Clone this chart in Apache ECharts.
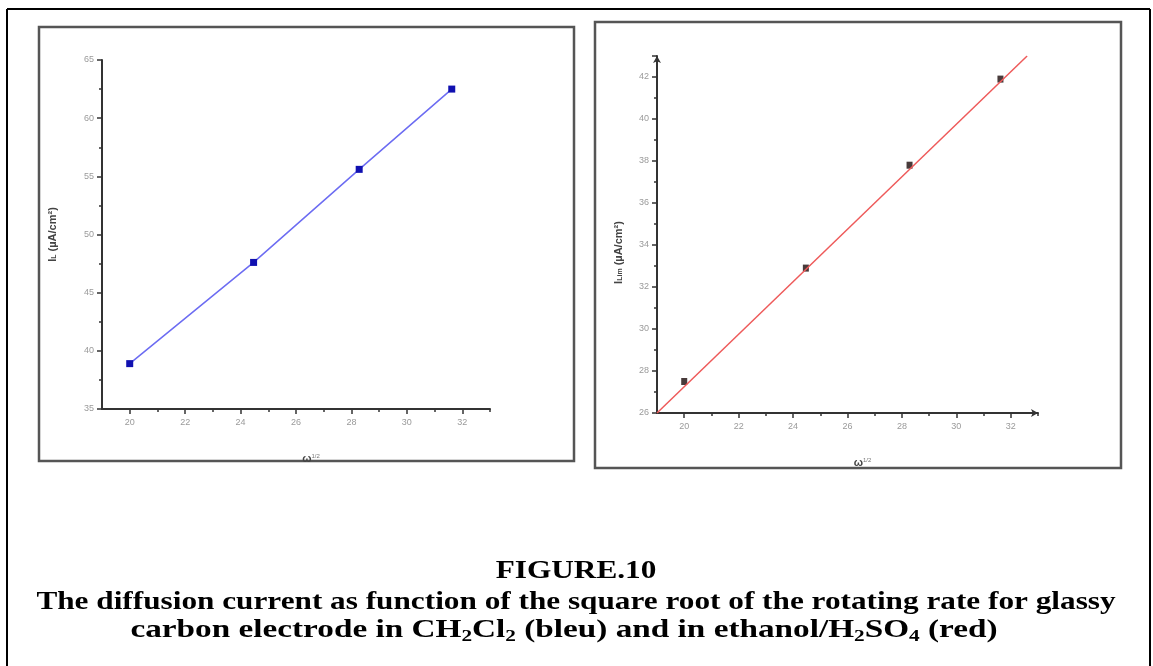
<!DOCTYPE html>
<html>
<head>
<meta charset="utf-8">
<script src="https://cdn.jsdelivr.net/npm/echarts@6/dist/echarts.min.js"></script>
<style>
  html, body { margin: 0; padding: 0; background: #fff; }
  #chart { width: 1153px; height: 666px; }
</style>
</head>
<body>
<div id="chart"></div>
<script>
var chart = echarts.init(document.getElementById('chart'));

// square root of rotating rate (x axis, both panels)
var omegaRoot = [20, 24.47, 28.28, 31.62];
// CH2Cl2 (blue panel)
var currentBlue = [38.9, 47.6, 55.6, 62.5];
// ethanol/H2SO4 (red panel)
var currentRed = [27.5, 32.9, 37.8, 41.9];
// fitted line ends, red panel
var fitX = [19, 32.6];
var fitY = [26.0, 43.0];
// tick labels
var xMajor = [20, 22, 24, 26, 28, 30, 32];
var xMinor = [21, 23, 25, 27, 29, 31, 33];

var lblStyle = { color: '#9a9a9a', fontSize: 9, fontFamily: 'Arial' };
var nameRich = {
    a: { fontSize: 11, fontWeight: 'bold', color: '#444', fontFamily: 'Arial' },
    s: { fontSize: 7, fontWeight: 'bold', color: '#444', fontFamily: 'Arial', verticalAlign: 'bottom', lineHeight: 8 },
    u: { fontSize: 6, color: '#777', fontFamily: 'Arial', verticalAlign: 'top', lineHeight: 6 }
};
var axisLineStyle = { color: '#333', width: 2 };

function xAxes(gi, ends) {
    return [{
        type: 'value', gridIndex: gi, min: 19, max: 33, position: 'bottom', offset: 0,
        axisLine: { lineStyle: axisLineStyle, symbol: ends, symbolSize: [6, 7] },
        axisTick: { show: true, length: 5, customValues: xMajor, lineStyle: { color: '#333', width: 1.5 } },
        axisLabel: Object.assign({ customValues: xMajor, margin: 9 }, lblStyle),
        splitLine: { show: false },
        name: '{a|ω}{u|1/2}', nameLocation: 'middle', nameGap: 44,
        nameTextStyle: { rich: nameRich, color: '#444', padding: [0, 0, 0, 30] }
    }, {
        type: 'value', gridIndex: gi, min: 19, max: 33, position: 'bottom', offset: 0,
        axisLine: { show: false },
        axisTick: { show: true, length: 3, customValues: xMinor, lineStyle: { color: '#333', width: 1.5 } },
        axisLabel: { show: false },
        splitLine: { show: false }
    }];
}

option = {
    backgroundColor: '#fff',
    animation: false,
    grid: [
        { left: 102, top: 60, width: 388, height: 349 },
        { left: 657, top: 56, width: 381, height: 357 }
    ],
    xAxis: xAxes(0, ['none', 'none']).concat(xAxes(1, ['none', 'arrow'])),
    yAxis: [
        {
            type: 'value', gridIndex: 0, min: 35, max: 65, interval: 5,
            axisLine: { lineStyle: axisLineStyle },
            axisTick: { length: 5, lineStyle: { color: '#333', width: 1.5 } },
            minorTick: { show: true, splitNumber: 2, length: 3, lineStyle: { color: '#333', width: 1.5 } },
            axisLabel: Object.assign({ margin: 8 }, lblStyle),
            splitLine: { show: false },
            name: '{a|I}{s|L}{a| (µA/cm²)}', nameLocation: 'middle', nameGap: 44, nameRotate: 90,
            nameTextStyle: { rich: nameRich }
        },
        {
            type: 'value', gridIndex: 1, min: 26, max: 43, interval: 2,
            axisLine: { lineStyle: axisLineStyle, symbol: ['none', 'arrow'], symbolSize: [6, 7] },
            axisTick: { length: 5, lineStyle: { color: '#333', width: 1.5 } },
            minorTick: { show: true, splitNumber: 2, length: 3, lineStyle: { color: '#333', width: 1.5 } },
            axisLabel: Object.assign({ margin: 8, showMaxLabel: false }, lblStyle),
            splitLine: { show: false },
            name: '{a|I}{s|Lim}{a| (µA/cm²)}', nameLocation: 'middle', nameGap: 33, nameRotate: 90,
            nameTextStyle: { rich: nameRich, padding: [0, 36, 0, 0] }
        }
    ],
    series: [
        {
            name: 'CH2Cl2', type: 'line', xAxisIndex: 0, yAxisIndex: 0,
            data: omegaRoot.map(function (x, i) { return [x, currentBlue[i]]; }),
            lineStyle: { color: '#6c6cf2', width: 1.5 },
            symbol: 'rect', symbolSize: [7, 7],
            itemStyle: { color: '#1010b0' }
        },
        {
            name: 'fit', type: 'line', xAxisIndex: 2, yAxisIndex: 1,
            data: fitX.map(function (x, i) { return [x, fitY[i]]; }),
            lineStyle: { color: '#ee5a5a', width: 1.5 },
            symbol: 'none'
        },
        {
            name: 'ethanol/H2SO4', type: 'scatter', xAxisIndex: 2, yAxisIndex: 1,
            data: omegaRoot.map(function (x, i) { return [x, currentRed[i]]; }),
            symbol: 'rect', symbolSize: [6, 7],
            itemStyle: { color: '#1a0a0a' }
        }
    ],
    graphic: [
        // outer frame
        { type: 'line', shape: { x1: 7, y1: 9, x2: 1150, y2: 9 }, style: { stroke: '#000', lineWidth: 2 } },
        { type: 'line', shape: { x1: 7, y1: 9, x2: 7, y2: 666 }, style: { stroke: '#000', lineWidth: 2 } },
        { type: 'line', shape: { x1: 1150, y1: 9, x2: 1150, y2: 666 }, style: { stroke: '#000', lineWidth: 2 } },
        // panel boxes
        { type: 'rect', shape: { x: 39, y: 27, width: 535, height: 434 }, style: { fill: 'none', stroke: '#555', lineWidth: 2.5 } },
        { type: 'rect', shape: { x: 595, y: 22, width: 526, height: 446 }, style: { fill: 'none', stroke: '#555', lineWidth: 2.5 } },
        // caption (the source text is stretched horizontally)
        {
            type: 'text', x: 576, y: 572, scaleX: 1.25,
            style: { text: 'FIGURE.10', fill: '#000', font: 'bold 25px "Liberation Serif"', textAlign: 'center', textVerticalAlign: 'middle' }
        },
        {
            type: 'text', x: 576, y: 603, scaleX: 1.25,
            style: { text: 'The diffusion current as function of the square root of the rotating rate for glassy', fill: '#000', font: 'bold 25px "Liberation Serif"', textAlign: 'center', textVerticalAlign: 'middle' }
        },
        {
            type: 'text', x: 564, y: 631, scaleX: 1.33,
            style: {
                text: '{m|carbon electrode in CH}{s|2}{m|Cl}{s|2}{m| (bleu) and in ethanol/H}{s|2}{m|SO}{s|4}{m| (red)}',
                textAlign: 'center', textVerticalAlign: 'middle',
                rich: {
                    m: { fontSize: 25, fontWeight: 'bold', fontFamily: 'Liberation Serif', color: '#000', lineHeight: 28 },
                    s: { fontSize: 16, fontWeight: 'bold', fontFamily: 'Liberation Serif', color: '#000', lineHeight: 16, verticalAlign: 'bottom' }
                }
            }
        }
    ]
};
chart.setOption(option);
</script>
</body>
</html>
